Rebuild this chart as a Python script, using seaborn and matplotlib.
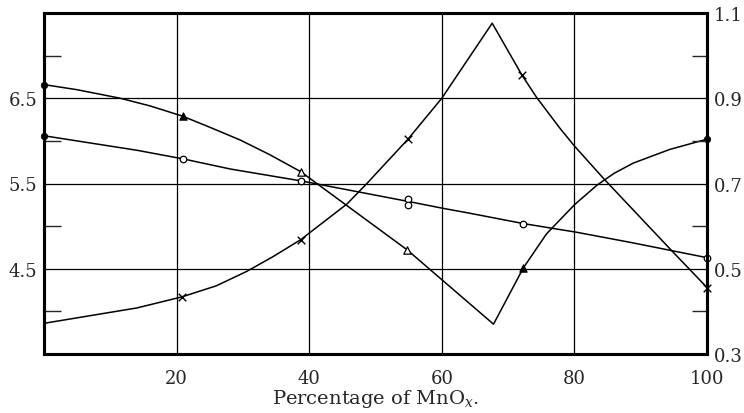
import matplotlib
matplotlib.use("Agg")
import matplotlib.pyplot as plt
import seaborn as sns
import pandas as pd
from matplotlib.ticker import FixedLocator, NullFormatter

# ---- data ----
# Curve A (triangles, left axis)
a_x = [0, 5, 11.5, 16, 20.9, 25, 29.6, 34, 38.7, 54.8, 67.8, 72.3, 75.8, 80, 83.4, 86, 88.9, 94.4, 100]
a_y = [6.66, 6.60, 6.50, 6.41, 6.29, 6.16, 6.01, 5.84, 5.64, 4.72, 3.85, 4.51, 4.91, 5.25, 5.48, 5.62, 5.74, 5.90, 6.02]
a_tri_x = [20.9, 38.7, 54.8, 72.3]
a_tri_y = [6.29, 5.64, 4.72, 4.51]
a_fill = [True, False, False, True]
a_dot_x = [0, 100]
a_dot_y = [6.66, 6.02]

# Curve C (open circles, left axis)
c_x = [0, 7, 14, 20.9, 28.1, 38.8, 54.9, 60.1, 64.3, 72.3, 77.8, 80.2, 88.4, 100]
c_y = [6.06, 5.975, 5.89, 5.79, 5.67, 5.53, 5.29, 5.21, 5.15, 5.03, 4.96, 4.93, 4.81, 4.63]
c_pt_x = [20.9, 38.8, 54.9, 54.9, 72.3, 100]
c_pt_y = [5.79, 5.53, 5.32, 5.25, 5.03, 4.63]
c_dot_x = [0]
c_dot_y = [6.06]

# Curve B (crosses, right axis)
b_x = [0, 7, 14, 20.8, 26, 30.6, 34.5, 38.7, 45.7, 48.7, 54.9, 60, 67.6, 72.1, 74.3, 77.8, 80, 84.5, 94.7, 100]
b_y = [0.372, 0.390, 0.408, 0.434, 0.460, 0.494, 0.528, 0.568, 0.652, 0.700, 0.804, 0.900, 1.076,
       0.954, 0.902, 0.830, 0.788, 0.710, 0.542, 0.456]
b_pt_x = [20.8, 38.7, 54.9, 72.1, 100]
b_pt_y = [0.434, 0.568, 0.804, 0.954, 0.456]

x_ticks = [20, 40, 60, 80, 100]
left_major = [4.5, 5.5, 6.5]
left_minor = [4.0, 5.0, 6.0, 7.0]
right_major = [0.3, 0.5, 0.7, 0.9, 1.1]
right_minor = [0.4, 0.6, 0.8, 1.0]

# ---- style ----
sns.set_style("white")
plt.rcParams['font.family'] = ['DejaVu Serif']
plt.rcParams['mathtext.fontset'] = 'dejavuserif'

fig = plt.figure(figsize=(7.44, 4.14), dpi=100)
ax = fig.add_axes([44/744, 1-355/414, (707-44)/744, (355-14)/414])
ax2 = ax.twinx()

ax.set_xlim(0, 100)
ax.set_ylim(3.5, 7.5)
ax2.set_ylim(0.3, 1.1)

# grid lines
for gx in [20, 40, 60, 80]:
    ax.axvline(gx, color='black', lw=0.9, zorder=1)
for gy in left_major:
    ax.axhline(gy, color='black', lw=0.9, zorder=1)

lw = 1.1
sns.lineplot(x=a_x, y=a_y, ax=ax, color='black', lw=lw, sort=False, estimator=None, zorder=3)
sns.lineplot(x=c_x, y=c_y, ax=ax, color='black', lw=lw, sort=False, estimator=None, zorder=3)
sns.lineplot(x=b_x, y=b_y, ax=ax2, color='black', lw=lw, sort=False, estimator=None, zorder=3)

# markers
df_tri = pd.DataFrame({'x': a_tri_x, 'y': a_tri_y, 'f': a_fill})
sns.scatterplot(data=df_tri[df_tri.f], x='x', y='y', ax=ax, marker='^', s=28,
                color='black', edgecolor='black', linewidth=0.8, zorder=5)
sns.scatterplot(data=df_tri[~df_tri.f], x='x', y='y', ax=ax, marker='^', s=28,
                facecolor='white', edgecolor='black', linewidth=0.9, zorder=5)
sns.scatterplot(x=a_dot_x + c_dot_x, y=a_dot_y + c_dot_y, ax=ax, marker='o', s=22,
                color='black', edgecolor='black', linewidth=0.5, zorder=6, clip_on=False)
sns.scatterplot(x=c_pt_x, y=c_pt_y, ax=ax, marker='o', s=22,
                facecolor='white', edgecolor='black', linewidth=0.9, zorder=5, clip_on=False)
sns.scatterplot(x=b_pt_x, y=b_pt_y, ax=ax2, marker='x', s=30,
                color='black', linewidth=1.0, zorder=5, clip_on=False)

# axes cosmetics
ax.set_xticks(x_ticks)
ax.set_xticklabels([str(t) for t in x_ticks])
ax.yaxis.set_major_locator(FixedLocator(left_major))
ax.yaxis.set_minor_locator(FixedLocator(left_minor))
ax.yaxis.set_minor_formatter(NullFormatter())
ax.set_yticklabels([str(t) for t in left_major])
ax2.yaxis.set_major_locator(FixedLocator(right_major))
ax2.yaxis.set_minor_locator(FixedLocator(right_minor))
ax2.yaxis.set_minor_formatter(NullFormatter())
ax2.set_yticklabels([str(t) for t in right_major])

ax.tick_params(axis='x', which='major', length=0, pad=11, labelsize=13)
ax.tick_params(axis='y', which='major', length=0, pad=5, labelsize=13)
ax.tick_params(axis='y', which='minor', direction='in', length=12, width=1.0, left=True)
ax2.tick_params(axis='y', which='major', length=0, pad=5, labelsize=13)
ax2.tick_params(axis='y', which='minor', direction='in', length=11, width=1.0, right=True)

ax.set_xlabel('Percentage of MnO$_x$.', fontsize=14, labelpad=0)
ax.set_ylabel('')
ax2.set_ylabel('')

for a in (ax, ax2):
    for s in a.spines.values():
        s.set_linewidth(2.2)
        s.set_color('black')

fig.savefig('out.png', dpi=100)
